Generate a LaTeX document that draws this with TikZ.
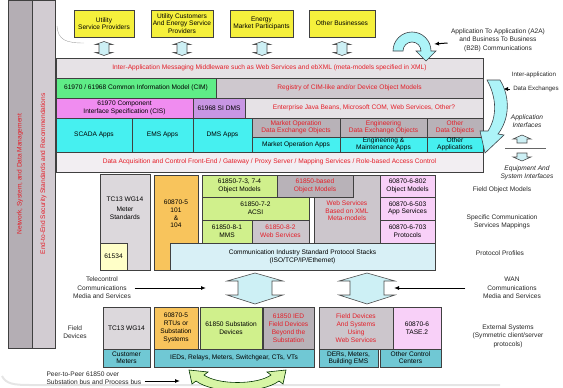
\documentclass[tikz,border=0pt]{standalone}
\usepackage{fontspec}
\setmainfont{Liberation Sans}
\usetikzlibrary{arrows.meta}

\definecolor{ylw}{RGB}{245,240,60}
\definecolor{redtx}{RGB}{228,30,40}
\definecolor{midgray}{RGB}{230,226,230}
\definecolor{cimgreen}{RGB}{95,236,135}
\definecolor{reggray}{RGB}{206,200,206}
\definecolor{cismag}{RGB}{240,140,240}
\definecolor{dmspurp}{RGB}{200,150,228}
\definecolor{appcyan}{RGB}{70,240,240}
\definecolor{objgray}{RGB}{184,178,184}
\definecolor{dacq}{RGB}{242,238,242}
\definecolor{tcgray}{RGB}{220,216,220}
\definecolor{paleylw}{RGB}{255,255,200}
\definecolor{orng}{RGB}{248,196,92}
\definecolor{lgreen}{RGB}{208,240,140}
\definecolor{webgray}{RGB}{204,198,204}
\definecolor{lpink}{RGB}{248,208,248}
\definecolor{commcyan}{RGB}{216,240,246}
\definecolor{tealbox}{RGB}{112,200,212}
\definecolor{barA}{RGB}{180,174,180}
\definecolor{barB}{RGB}{210,204,210}
\definecolor{arrcyan}{RGB}{205,240,245}
\definecolor{arrgreen}{RGB}{215,245,165}

% box: name, x1, y1, x2, y2, style, text
\newcommand{\blk}[7]{\node[blkbox,#6,minimum width=#4-#2,minimum height=#5-#3,anchor=north west] (#1) at (#2,#3) {#7};}

\begin{document}
\begin{tikzpicture}[x=1pt,y=-1pt,
    blkbox/.style={draw=black!75,line width=0.6pt,inner sep=0pt,outer sep=0pt,align=center,font=\fontsize{6.6}{7.6}\selectfont},
    tight/.style={font=\fontsize{6.6}{6.9}\selectfont},
    four/.style={font=\fontsize{6.6}{8}\selectfont},
    txt/.style={align=center,font=\fontsize{6.6}{7.6}\selectfont},
    lbl/.style={align=center,font=\fontsize{6.6}{8.4}\selectfont,text=black!85},
    arr/.style={-{Latex[length=5pt,width=4pt]},line width=1pt},
    blockarr/.style={draw=black!70,fill=arrcyan,line width=0.6pt},
    curvarr/.style={draw=black!70!cyan!60!black,fill=arrcyan!80!cyan!90!white,line width=0.6pt}]
\useasboundingbox (0,0) rectangle (563,388);

% side bars
\node[blkbox,fill=barA,text=redtx,rotate=90,minimum width=348,minimum height=24] (netbar) at (20,174) {Network, System, and Data Management};
\node[blkbox,fill=barB,text=redtx,rotate=90,minimum width=348,minimum height=23] (secbar) at (43.5,174) {End-to-End Security Standards and Recommendations};
\draw[black!35,line width=0.4pt] (57,26) .. controls (58,40) and (66,43) .. (84,43);
\draw[black!10,line width=2pt] (2,376) .. controls (6,384) and (14,385) .. (30,385) -- (500,385);

% businesses
\blk{usp}{74}{10}{134}{37}{fill=ylw}{Utility\\Service Providers}
\blk{uce}{151}{10}{213}{37}{fill=ylw}{Utility Customers\\And Energy Service\\Providers}
\blk{emp}{230}{10}{293}{37}{fill=ylw}{Energy\\Market Participants}
\blk{obz}{309}{10}{375}{37}{fill=ylw}{Other Businesses}
\foreach \cx in {104,182,262,342}
  \draw[blockarr] ({\cx-5},44.5) -- ({\cx-8.5},44.5) -- (\cx,41.5) -- ({\cx+8.5},44.5) -- ({\cx+5},44.5)
    -- ({\cx+5},52.5) -- ({\cx+8.5},52.5) -- (\cx,55.5) -- ({\cx-8.5},52.5) -- ({\cx-5},52.5) -- cycle;

% application layers
\blk{mw}{56}{58}{483}{78}{fill=midgray,text=redtx}{Inter-Application Messaging Middleware such as Web Services and ebXML (meta-models specified in XML)}
\blk{cim}{56}{78}{216}{98}{fill=cimgreen}{61970 / 61968 Common Information Model (CIM)}
\blk{reg}{216}{78}{483}{98}{fill=reggray,text=redtx}{Registry of CIM-like and/or Device Object Models}
\blk{cis}{56}{98}{193}{118}{fill=cismag}{61970 Component\\Interface Specification (CIS)}
\blk{sidms}{193}{98}{245}{118}{fill=dmspurp}{61968 SI DMS}
\blk{ejb}{245}{98}{483}{118}{fill=midgray,text=redtx}{Enterprise Java Beans, Microsoft COM, Web Services, Other?}
\blk{scada}{56}{118}{132}{152}{fill=appcyan}{SCADA Apps}
\blk{ems}{132}{118}{193}{152}{fill=appcyan}{EMS Apps}
\blk{dms}{193}{118}{252}{152}{fill=appcyan}{DMS Apps}
\blk{mode}{252}{118}{340}{137}{fill=objgray,text=redtx,tight}{Market Operation\\Data Exchange Objects}
\blk{edeo}{340}{118}{427}{137}{fill=objgray,text=redtx,tight}{Engineering\\Data Exchange Objects}
\blk{odo}{427}{118}{483}{137}{fill=objgray,text=redtx,tight}{Other\\Data Objects}
\blk{moa}{252}{137}{340}{152}{fill=appcyan}{Market Operation Apps}
\blk{ema}{340}{137}{427}{152}{fill=appcyan,tight}{Engineering \&\\Maintenance Apps}
\blk{oapp}{427}{137}{483}{152}{fill=appcyan,tight}{Other\\Applications}
\blk{dac}{56}{152}{483}{172}{fill=dacq,text=redtx}{Data Acquisition and Control Front-End / Gateway / Proxy Server / Mapping Services / Role-based Access Control}

% field object models and protocols
\blk{tcm}{100}{174}{150}{270}{fill=tcgray}{}
\node[txt] (tcmtxt) at (125,208) {TC13 WG14\\[3pt]Meter\\Standards};
\blk{iec61534}{100}{243}{127}{270}{fill=paleylw}{61534}
\blk{iec608705}{154}{175}{198}{270}{fill=orng}{}
\node[txt] (iectxt) at (176,214) {60870-5\\101\\\&\\104};
\blk{wsx}{314}{175}{380}{243}{fill=webgray}{}
\node[txt,text=redtx] (wsxtxt) at (347,211) {Web Services\\Based on XML\\Meta-models};
\blk{om734}{202}{175}{277}{197}{fill=lgreen}{61850-7-3, 7-4\\Object Models}
\blk{om850}{277}{175}{353}{197}{fill=objgray,text=redtx}{61850-based\\Object Models}
\blk{om802}{380}{175}{435}{197}{fill=lpink}{60870-6-802\\Object Models}
\blk{acsi}{202}{197}{309}{220}{fill=lgreen}{61850-7-2\\ACSI}
\blk{asv}{380}{197}{435}{220}{fill=lpink}{60870-6-503\\App Services}
\blk{mms}{202}{220}{252}{243}{fill=lgreen}{61850-8-1\\MMS}
\blk{ws82}{252}{220}{309}{243}{fill=webgray,text=redtx}{61850-8-2\\Web Services}
\blk{prot}{380}{220}{435}{243}{fill=lpink}{60870-6-703\\Protocols}
\blk{comm}{170}{243}{435}{270}{fill=commcyan}{Communication Industry Standard Protocol Stacks\\(ISO/TCP/IP/Ethernet)}

% media
\foreach \cx in {255,367}
  \draw[blockarr] ({\cx-17},281) -- ({\cx-28},281) -- (\cx,273) -- ({\cx+28},281) -- ({\cx+17},281)
    -- ({\cx+17},295) -- ({\cx+28},295) -- (\cx,304) -- ({\cx-28},295) -- ({\cx-17},295) -- cycle;
\node[lbl] (tele) at (102,288) {Telecontrol\\Communications\\Media and Services};
\node[lbl] (wan) at (512,288) {WAN\\Communications\\Media and Services};
\coordinate (teleend) at (206,288);
\coordinate (wanend) at (394,288);
\draw[arr] (tele.east) -- (teleend);
\draw[arr] ([xshift=-14pt]wan.west) -- (wanend);

% field devices
\node[lbl] (fdev) at (75,332) {Field\\Devices};
\blk{tcw}{103}{307}{150}{349}{fill=tcgray}{TC13 WG14}
\blk{cmet}{103}{349}{150}{367}{fill=tealbox,tight}{Customer\\Meters}
\blk{rtu}{154}{307}{198}{349}{fill=orng,four}{60870-5\\RTUs or\\Substation\\Systems}
\blk{sub}{200}{307}{262}{349}{fill=lgreen}{61850 Substation\\Devices}
\blk{ied}{263}{307}{314}{349}{fill=objgray,text=redtx,four}{61850 IED\\Field Devices\\Beyond the\\Substation}
\blk{ieds}{154}{349}{314}{367}{fill=tealbox}{IEDs, Relays, Meters, Switchgear, CTs, VTs}
\blk{fdws}{319}{307}{393}{349}{fill=webgray,text=redtx,four}{Field Devices\\And Systems\\Using\\Web Services}
\blk{tase}{393}{307}{441}{349}{fill=lpink}{60870-6\\TASE.2}
\blk{ders}{319}{349}{378}{367}{fill=tealbox,tight}{DERs, Meters,\\Building EMS}
\blk{occ}{380}{349}{441}{367}{fill=tealbox,tight}{Other Control\\Centers}

% right hand labels
\node[lbl] (a2a) at (498,40) {Application To Application (A2A)\\and Business To Business\\(B2B) Communications};
\coordinate (a2aend) at (434,44);
\draw[arr] ([yshift=-3pt]a2a.west) -- (a2aend);
\draw[curvarr] (393,51) arc (180:360:19) -- (436,51) -- (426,61) -- (416,51) -- (421,51) arc (360:180:9) -- cycle;
\node[lbl,font=\fontsize{6.2}{8}\selectfont] (ide1) at (534,75) {Inter-application};
\node[lbl,font=\fontsize{6.2}{8}\selectfont] (ide2) at (536,89) {Data Exchanges};
\coordinate (ideend) at (503,89);
\draw[arr] (ide2.west) -- (ideend);
\draw[curvarr] (487,80) -- (500,80) .. controls (511,98) and (509,120) .. (498,134) -- (504,135) -- (485,153)
  -- (480,131) -- (488,131) .. controls (497,117) and (497,98) .. (487,80) -- cycle;
\node[lbl,font=\fontsize{6.6}{8}\selectfont\itshape] (apif) at (527,121) {Application\\Interfaces};
\draw[blockarr] (517,139) -- (513,139) -- (522,135) -- (531,139) -- (527,139) -- (527,143) -- (517,143) -- cycle;
\draw[black!60] (505,148) -- (546,148);
\draw[blockarr] (517,153) -- (527,153) -- (527,157) -- (531,157) -- (522,161) -- (513,157) -- (517,157) -- cycle;
\node[lbl,font=\fontsize{6.6}{8}\selectfont\itshape] (eqif) at (527,173) {Equipment And\\System Interfaces};
\node[lbl] (fom) at (502,190) {Field Object Models};
\node[lbl] (scsm) at (502,222) {Specific Communication\\Services Mappings};
\node[lbl] (pprof) at (500,253) {Protocol Profiles};
\node[lbl] (ext) at (508,336) {External Systems\\(Symmetric client/server\\protocols)};

% peer to peer
\node[lbl,align=left,anchor=west] (p2p) at (43,378) {Peer-to-Peer 61850 over\\Substation bus and Process bus};
\coordinate (p2pend) at (180,381);
\draw[arr] ([yshift=-3pt]p2p.east) -- (p2pend);
\draw[curvarr,fill=arrgreen,draw=black!60!green!50!black] (204,375) .. controls (218,385) and (257,385) .. (271,375) -- (267,372) -- (286,370) -- (283,384) -- (279,381)
  .. controls (262,394) and (213,394) .. (196,381) -- (192,384) -- (189,370) -- (208,372) -- cycle;
\end{tikzpicture}
\end{document}
